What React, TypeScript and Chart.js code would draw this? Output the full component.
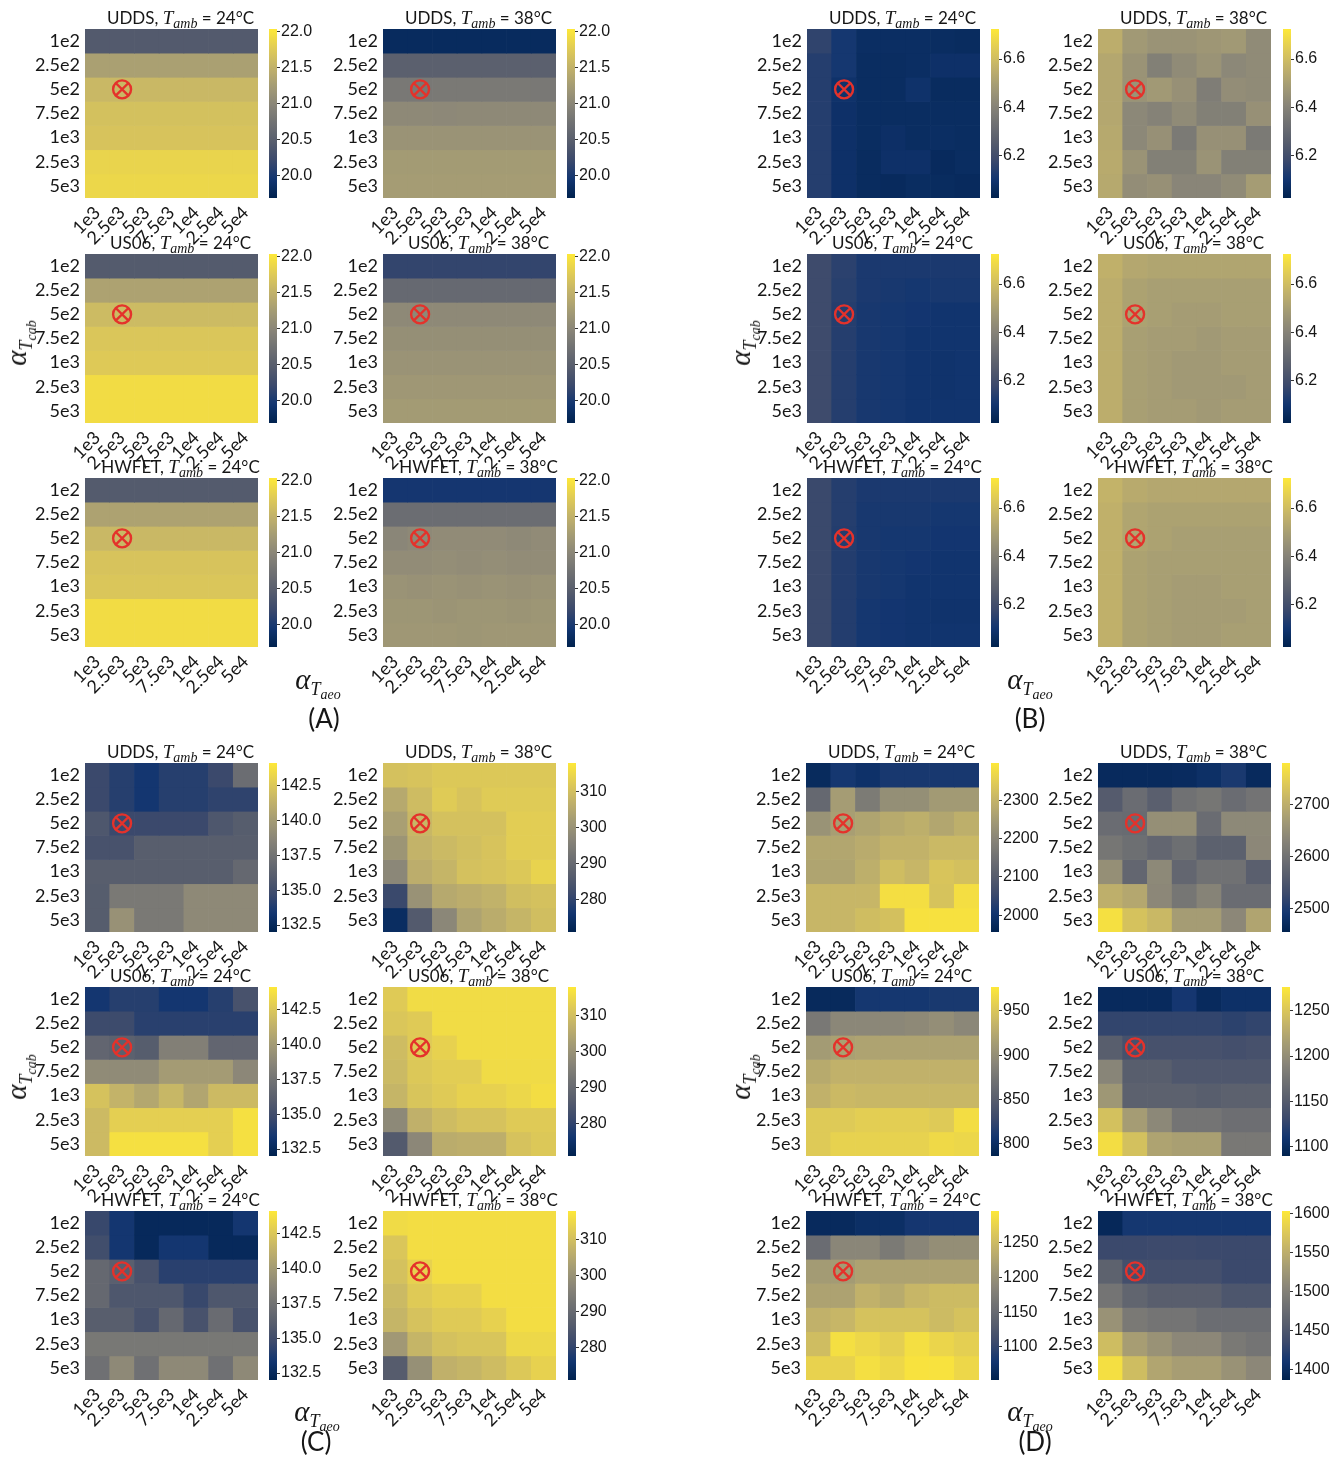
import React, { useEffect, useRef } from 'react';
import { Chart, registerables } from 'chart.js';
Chart.register(...registerables);

// ---------- axes ----------
const X_LABELS = ['1e3', '2.5e3', '5e3', '7.5e3', '1e4', '2.5e4', '5e4'];
const Y_LABELS = ['1e2', '2.5e2', '5e2', '7.5e2', '1e3', '2.5e3', '5e3'];
const MARKER_X = '2.5e3';
const MARKER_Y = '5e2';
const CYCLES = ['UDDS', 'US06', 'HWFET'];
const TEMPS = [24, 38];

// ---------- colour ranges and ticks ----------
const A_RANGE = [19.69, 22.04];
const A_TICKS = [20.0, 20.5, 21.0, 21.5, 22.0];
const B_RANGE = [6.026, 6.724];
const B_TICKS = [6.2, 6.4, 6.6];
const C_RANGE_24 = [132.0, 144.1];
const C_TICKS_24 = [132.5, 135.0, 137.5, 140.0, 142.5];
const C_RANGE_38 = [271.1, 318.0];
const C_TICKS_38 = [280, 290, 300, 310];
const D_RANGE_UDDS_24 = [1956, 2397];
const D_TICKS_UDDS_24 = [2000, 2100, 2200, 2300];
const D_RANGE_UDDS_38 = [2454, 2781];
const D_TICKS_UDDS_38 = [2500, 2600, 2700];
const D_RANGE_US06_24 = [786, 977];
const D_TICKS_US06_24 = [800, 850, 900, 950];
const D_RANGE_US06_38 = [1090, 1276];
const D_TICKS_US06_38 = [1100, 1150, 1200, 1250];
const D_RANGE_HWFET_24 = [1052, 1296];
const D_TICKS_HWFET_24 = [1100, 1150, 1200, 1250];
const D_RANGE_HWFET_38 = [1386, 1603];
const D_TICKS_HWFET_38 = [1400, 1450, 1500, 1550, 1600];

// ---------- panel A ----------
const A_UDDS_24 = [
  [20.44, 20.44, 20.44, 20.44, 20.44, 20.44, 20.44],
  [21.3, 21.3, 21.3, 21.3, 21.3, 21.3, 21.3],
  [21.57, 21.57, 21.57, 21.57, 21.57, 21.57, 21.57],
  [21.66, 21.66, 21.66, 21.66, 21.66, 21.66, 21.66],
  [21.69, 21.69, 21.69, 21.69, 21.69, 21.69, 21.69],
  [21.85, 21.85, 21.85, 21.85, 21.85, 21.85, 21.85],
  [21.88, 21.88, 21.88, 21.88, 21.88, 21.88, 21.88],
];
const A_UDDS_38 = [
  [19.81, 19.81, 19.81, 19.81, 19.81, 19.81, 19.81],
  [20.51, 20.51, 20.51, 20.51, 20.51, 20.51, 20.51],
  [20.82, 20.82, 20.83, 20.83, 20.83, 20.83, 20.82],
  [21.03, 21.03, 21.02, 21.03, 21.03, 21.03, 21.03],
  [21.15, 21.15, 21.15, 21.15, 21.15, 21.15, 21.15],
  [21.24, 21.24, 21.24, 21.24, 21.24, 21.24, 21.24],
  [21.26, 21.26, 21.26, 21.26, 21.26, 21.26, 21.26],
];
const A_US06_24 = [
  [20.45, 20.45, 20.45, 20.45, 20.45, 20.45, 20.45],
  [21.33, 21.33, 21.33, 21.33, 21.33, 21.33, 21.33],
  [21.6, 21.6, 21.6, 21.6, 21.6, 21.6, 21.6],
  [21.72, 21.72, 21.72, 21.72, 21.72, 21.72, 21.72],
  [21.75, 21.75, 21.75, 21.75, 21.75, 21.75, 21.75],
  [21.93, 21.93, 21.93, 21.93, 21.93, 21.93, 21.93],
  [21.93, 21.93, 21.93, 21.93, 21.93, 21.93, 21.93],
];
const A_US06_38 = [
  [20.16, 20.16, 20.16, 20.16, 20.16, 20.16, 20.16],
  [20.63, 20.63, 20.63, 20.63, 20.63, 20.63, 20.63],
  [21.03, 21.03, 21.03, 21.03, 21.03, 21.03, 21.03],
  [21.1, 21.1, 21.1, 21.1, 21.1, 21.1, 21.1],
  [21.15, 21.15, 21.15, 21.15, 21.15, 21.15, 21.15],
  [21.2, 21.2, 21.2, 21.2, 21.2, 21.2, 21.2],
  [21.24, 21.24, 21.24, 21.24, 21.24, 21.24, 21.24],
];
const A_HWFET_24 = [
  [20.45, 20.45, 20.45, 20.45, 20.45, 20.45, 20.45],
  [21.33, 21.33, 21.33, 21.33, 21.33, 21.33, 21.33],
  [21.57, 21.57, 21.57, 21.57, 21.57, 21.57, 21.57],
  [21.69, 21.69, 21.69, 21.69, 21.69, 21.69, 21.69],
  [21.72, 21.72, 21.72, 21.72, 21.72, 21.72, 21.72],
  [21.93, 21.93, 21.93, 21.93, 21.93, 21.93, 21.93],
  [21.93, 21.93, 21.93, 21.93, 21.93, 21.93, 21.93],
];
const A_HWFET_38 = [
  [19.97, 19.97, 19.97, 19.97, 19.97, 19.97, 19.97],
  [20.68, 20.68, 20.68, 20.68, 20.68, 20.68, 20.68],
  [21.0, 21.03, 21.06, 21.06, 21.06, 21.03, 21.06],
  [21.07, 21.07, 21.09, 21.07, 21.09, 21.07, 21.07],
  [21.15, 21.13, 21.15, 21.13, 21.15, 21.13, 21.15],
  [21.18, 21.18, 21.16, 21.18, 21.18, 21.16, 21.18],
  [21.2, 21.2, 21.2, 21.18, 21.2, 21.2, 21.2],
];

// ---------- panel B ----------
const B_UDDS_24 = [
  [6.16, 6.11, 6.075, 6.075, 6.075, 6.07, 6.065],
  [6.14, 6.11, 6.07, 6.07, 6.075, 6.085, 6.085],
  [6.14, 6.09, 6.07, 6.07, 6.09, 6.065, 6.065],
  [6.14, 6.085, 6.07, 6.07, 6.07, 6.07, 6.07],
  [6.14, 6.085, 6.07, 6.08, 6.07, 6.075, 6.07],
  [6.14, 6.085, 6.065, 6.085, 6.085, 6.06, 6.07],
  [6.14, 6.085, 6.065, 6.06, 6.07, 6.065, 6.06],
];
const B_UDDS_38 = [
  [6.55, 6.48, 6.46, 6.46, 6.47, 6.48, 6.43],
  [6.53, 6.46, 6.39, 6.43, 6.46, 6.42, 6.43],
  [6.53, 6.46, 6.48, 6.45, 6.38, 6.44, 6.43],
  [6.53, 6.42, 6.4, 6.43, 6.39, 6.39, 6.45],
  [6.535, 6.42, 6.45, 6.37, 6.45, 6.45, 6.37],
  [6.54, 6.46, 6.39, 6.39, 6.46, 6.39, 6.39],
  [6.535, 6.44, 6.45, 6.41, 6.41, 6.43, 6.49],
];
const B_US06_24 = [
  [6.19, 6.15, 6.12, 6.12, 6.12, 6.12, 6.12],
  [6.19, 6.145, 6.12, 6.115, 6.11, 6.115, 6.115],
  [6.19, 6.14, 6.115, 6.11, 6.105, 6.1, 6.1],
  [6.19, 6.14, 6.115, 6.11, 6.1, 6.1, 6.1],
  [6.19, 6.14, 6.115, 6.11, 6.1, 6.095, 6.1],
  [6.19, 6.14, 6.115, 6.11, 6.1, 6.095, 6.1],
  [6.19, 6.14, 6.115, 6.11, 6.1, 6.1, 6.1],
];
const B_US06_38 = [
  [6.56, 6.53, 6.52, 6.52, 6.52, 6.52, 6.52],
  [6.55, 6.51, 6.5, 6.5, 6.5, 6.5, 6.5],
  [6.55, 6.51, 6.5, 6.49, 6.49, 6.5, 6.5],
  [6.55, 6.5, 6.49, 6.49, 6.48, 6.49, 6.49],
  [6.55, 6.5, 6.49, 6.48, 6.48, 6.49, 6.49],
  [6.55, 6.5, 6.49, 6.48, 6.48, 6.48, 6.49],
  [6.55, 6.5, 6.49, 6.49, 6.48, 6.49, 6.49],
];
const B_HWFET_24 = [
  [6.18, 6.14, 6.12, 6.12, 6.12, 6.12, 6.12],
  [6.18, 6.14, 6.115, 6.115, 6.115, 6.11, 6.11],
  [6.18, 6.135, 6.115, 6.11, 6.11, 6.105, 6.105],
  [6.18, 6.135, 6.115, 6.11, 6.105, 6.1, 6.1],
  [6.18, 6.135, 6.115, 6.11, 6.1, 6.1, 6.1],
  [6.18, 6.135, 6.11, 6.105, 6.1, 6.095, 6.095],
  [6.18, 6.135, 6.11, 6.105, 6.1, 6.1, 6.1],
];
const B_HWFET_38 = [
  [6.57, 6.54, 6.53, 6.53, 6.53, 6.53, 6.53],
  [6.56, 6.52, 6.51, 6.51, 6.51, 6.51, 6.51],
  [6.56, 6.52, 6.51, 6.5, 6.5, 6.5, 6.5],
  [6.56, 6.51, 6.5, 6.5, 6.5, 6.5, 6.5],
  [6.56, 6.51, 6.5, 6.49, 6.49, 6.5, 6.5],
  [6.56, 6.51, 6.5, 6.49, 6.49, 6.49, 6.5],
  [6.56, 6.51, 6.5, 6.49, 6.49, 6.5, 6.5],
];

// ---------- panel C ----------
const C_UDDS_24 = [
  [134.7, 134.0, 133.4, 134.0, 134.0, 134.7, 137.1],
  [134.7, 134.0, 133.4, 134.0, 134.0, 134.3, 134.3],
  [135.6, 134.7, 134.7, 134.7, 134.7, 135.6, 136.0],
  [135.3, 135.3, 136.1, 136.1, 136.1, 136.1, 136.1],
  [136.1, 136.1, 136.1, 136.1, 136.1, 136.1, 136.8],
  [136.0, 137.9, 137.9, 137.9, 138.9, 138.9, 138.9],
  [136.0, 139.4, 137.9, 137.9, 138.9, 138.9, 138.9],
];
const C_UDDS_38 = [
  [310.5, 311, 312, 312, 312, 312, 312],
  [305.3, 309.5, 312.5, 311, 312.5, 312.5, 312.5],
  [303, 308.5, 310.5, 310.5, 310.5, 313, 313],
  [300.6, 307.5, 309, 310, 311, 313, 313],
  [297.4, 306.3, 308, 310.5, 311, 312, 314],
  [281.4, 300, 305.3, 306.3, 307.3, 309.8, 310.5],
  [274, 286, 297.4, 304, 306, 308, 309.8],
];
const C_US06_24 = [
  [133.4, 134.0, 134.0, 133.4, 133.4, 134.0, 135.3],
  [134.8, 134.8, 134.1, 134.1, 134.1, 134.1, 134.1],
  [136.6, 136.3, 136.0, 138.3, 138.3, 136.6, 136.6],
  [139.0, 139.0, 139.0, 140.0, 140.0, 140.0, 138.8],
  [142.2, 141.4, 140.7, 141.6, 140.6, 141.8, 141.8],
  [141.8, 142.9, 142.9, 142.9, 142.9, 142.9, 143.7],
  [141.8, 143.7, 143.7, 143.7, 143.7, 142.9, 143.7],
];
const C_US06_38 = [
  [312.4, 315.7, 315.7, 315.7, 315.7, 315.7, 315.7],
  [311.5, 312.4, 315.7, 315.7, 315.7, 315.7, 315.7],
  [309.5, 312.4, 313.8, 315.7, 315.7, 315.7, 315.7],
  [309, 312, 313, 313, 315.5, 315.5, 315.5],
  [308, 311.3, 312.4, 313.8, 313.8, 314.8, 316],
  [297.8, 307, 309.5, 310.8, 310.8, 312.4, 312.4],
  [286, 297.5, 306, 306.5, 306.5, 310.8, 312],
];
const C_HWFET_24 = [
  [134.6, 133.4, 132.5, 132.5, 132.5, 132.5, 133.4],
  [135.0, 133.4, 132.5, 133.4, 133.4, 132.5, 132.5],
  [136.8, 136.2, 135.3, 134.1, 134.1, 134.1, 134.1],
  [136.8, 135.6, 135.6, 135.6, 134.6, 135.6, 135.6],
  [136.1, 136.1, 135.3, 136.8, 135.3, 137.0, 135.3],
  [137.8, 137.8, 137.8, 137.8, 137.8, 137.8, 137.8],
  [137.3, 138.9, 137.3, 138.9, 138.9, 137.3, 138.9],
];
const C_HWFET_38 = [
  [315.5, 316, 316, 316, 316, 316, 316],
  [311.5, 316, 316, 316, 316, 316, 316],
  [310.5, 313.8, 316, 316, 316, 316, 316],
  [309, 312.4, 313.8, 313.8, 316, 316, 316],
  [308, 310.8, 312.4, 312.4, 313.8, 316, 316],
  [301.5, 308, 310.5, 311.3, 311.3, 315, 315],
  [286.5, 299.5, 307, 308, 309.5, 312, 313.8],
];

// ---------- panel D ----------
const D_UDDS_24 = [
  [1978, 2009, 1995, 2012, 2012, 2012, 2012],
  [2130, 2250, 2175, 2220, 2220, 2245, 2245],
  [2229, 2255, 2266, 2280, 2290, 2272, 2290],
  [2272, 2272, 2282, 2297, 2297, 2310, 2310],
  [2266, 2266, 2290, 2318, 2305, 2333, 2325],
  [2305, 2305, 2305, 2380, 2380, 2330, 2380],
  [2305, 2305, 2318, 2325, 2385, 2385, 2385],
];
const D_UDDS_38 = [
  [2470, 2470, 2470, 2472, 2480, 2497, 2470],
  [2560, 2591, 2567, 2600, 2608, 2591, 2603],
  [2591, 2588, 2650, 2650, 2591, 2640, 2640],
  [2608, 2595, 2580, 2595, 2570, 2570, 2638],
  [2650, 2580, 2640, 2580, 2600, 2600, 2567],
  [2702, 2690, 2638, 2608, 2630, 2591, 2591],
  [2770, 2730, 2715, 2672, 2672, 2638, 2685],
];
const D_US06_24 = [
  [795, 795, 809, 809, 809, 811, 811],
  [878, 893, 893, 893, 895, 900, 893],
  [912, 917, 920, 920, 920, 920, 920],
  [926, 933, 933, 933, 933, 933, 933],
  [933, 940, 938, 938, 938, 938, 938],
  [954, 954, 957, 957, 957, 954, 969],
  [954, 960, 960, 960, 960, 966, 964],
];
const D_US06_38 = [
  [1099, 1099, 1099, 1112, 1099, 1105, 1105],
  [1127, 1127, 1127, 1127, 1127, 1124, 1127],
  [1153, 1140, 1140, 1140, 1140, 1138, 1140],
  [1192, 1153, 1153, 1146, 1146, 1146, 1146],
  [1209, 1156, 1156, 1156, 1153, 1156, 1156],
  [1246, 1214, 1195, 1176, 1176, 1170, 1170],
  [1268, 1246, 1220, 1217, 1217, 1180, 1180],
];
const D_HWFET_24 = [
  [1064, 1064, 1070, 1070, 1081, 1081, 1081],
  [1154, 1188, 1188, 1172, 1188, 1198, 1198],
  [1213, 1213, 1222, 1222, 1222, 1222, 1222],
  [1222, 1222, 1240, 1232, 1245, 1250, 1250],
  [1240, 1245, 1258, 1258, 1258, 1250, 1258],
  [1253, 1287, 1280, 1272, 1287, 1278, 1272],
  [1275, 1275, 1287, 1280, 1290, 1290, 1280],
];
const D_HWFET_38 = [
  [1394, 1412, 1412, 1412, 1412, 1412, 1412],
  [1434, 1434, 1436, 1436, 1434, 1434, 1434],
  [1464, 1442, 1442, 1442, 1442, 1434, 1434],
  [1486, 1468, 1460, 1460, 1460, 1450, 1450],
  [1520, 1492, 1486, 1486, 1478, 1478, 1478],
  [1564, 1532, 1520, 1508, 1508, 1492, 1486],
  [1595, 1564, 1540, 1532, 1532, 1520, 1508],
];

// ---------- styles / layout ----------
const CIVIDIS = ['#00224e', '#123570', '#3b496c', '#575d6d', '#707173', '#8a8678', '#a59c74', '#c3b369', '#e1cc55', '#fee838'];
const CIV_RGB = CIVIDIS.map((h) => [parseInt(h.slice(1, 3), 16), parseInt(h.slice(3, 5), 16), parseInt(h.slice(5, 7), 16)]);
function cividis(t: number) {
  const tt = Math.max(0, Math.min(1, t));
  const n = CIV_RGB.length - 1;
  const f = tt * n;
  const i = Math.min(Math.floor(f), n - 1);
  const u = f - i;
  const a = CIV_RGB[i], b = CIV_RGB[i + 1];
  const c = [0, 1, 2].map((k) => Math.round(a[k] + (b[k] - a[k]) * u));
  return `rgb(${c[0]},${c[1]},${c[2]})`;
}

const HM_W = 173;
const HM_H = 169;
const CB_W = 8;
const CB_PAD = 12;
const Y_AXIS_W = 84;
const X_AXIS_H = 62;
const CB_LABEL_W = 64;
const RED = '#e4322b';
const TXT = '#161616';
const TICK_FONT = 'Lato, "Open Sans", sans-serif';
const CB_FONT = '"Liberation Sans", Arial, sans-serif';
const MATH_FONT = '"Liberation Serif", "DejaVu Serif", serif';

const LAYOUT: any = {
  A: { colX: [85, 383], cbX: [269, 567], rowY: [29, 254, 478], cab: [19, 343], aeo: [318, 682], tag: [324, 718] },
  B: { colX: [807, 1098], cbX: [991, 1283], rowY: [29, 254, 478], cab: [743, 343], aeo: [1030, 682], tag: [1030, 718] },
  C: { colX: [85, 383], cbX: [269, 568], rowY: [763, 987, 1211], cab: [19, 1077], aeo: [317, 1414], tag: [316, 1441] },
  D: { colX: [806, 1098], cbX: [991, 1282], rowY: [763, 987, 1211], cab: [743, 1077], aeo: [1030, 1414], tag: [1035, 1441] },
};

const PANEL_MAPS: any = {
  A: [[A_UDDS_24, A_UDDS_38], [A_US06_24, A_US06_38], [A_HWFET_24, A_HWFET_38]],
  B: [[B_UDDS_24, B_UDDS_38], [B_US06_24, B_US06_38], [B_HWFET_24, B_HWFET_38]],
  C: [[C_UDDS_24, C_UDDS_38], [C_US06_24, C_US06_38], [C_HWFET_24, C_HWFET_38]],
  D: [[D_UDDS_24, D_UDDS_38], [D_US06_24, D_US06_38], [D_HWFET_24, D_HWFET_38]],
};
const PANEL_RANGES: any = {
  A: [[A_RANGE, A_RANGE], [A_RANGE, A_RANGE], [A_RANGE, A_RANGE]],
  B: [[B_RANGE, B_RANGE], [B_RANGE, B_RANGE], [B_RANGE, B_RANGE]],
  C: [[C_RANGE_24, C_RANGE_38], [C_RANGE_24, C_RANGE_38], [C_RANGE_24, C_RANGE_38]],
  D: [[D_RANGE_UDDS_24, D_RANGE_UDDS_38], [D_RANGE_US06_24, D_RANGE_US06_38], [D_RANGE_HWFET_24, D_RANGE_HWFET_38]],
};
const PANEL_TICKS: any = {
  A: [[A_TICKS, A_TICKS], [A_TICKS, A_TICKS], [A_TICKS, A_TICKS]],
  B: [[B_TICKS, B_TICKS], [B_TICKS, B_TICKS], [B_TICKS, B_TICKS]],
  C: [[C_TICKS_24, C_TICKS_38], [C_TICKS_24, C_TICKS_38], [C_TICKS_24, C_TICKS_38]],
  D: [[D_TICKS_UDDS_24, D_TICKS_UDDS_38], [D_TICKS_US06_24, D_TICKS_US06_38], [D_TICKS_HWFET_24, D_TICKS_HWFET_38]],
};
const PANEL_DECIMALS: any = { A: [1, 1], B: [1, 1], C: [1, 0], D: [0, 0] };

function Heatmap({ left, top, values, range }: any) {
  const ref = useRef<HTMLCanvasElement>(null);
  useEffect(() => {
    const [vmin, vmax] = range;
    const datasets: any[] = values.map((row: number[], r: number) => ({
      type: 'bar',
      data: row.map(() => [r, r + 1]),
      backgroundColor: row.map((v) => cividis((v - vmin) / (vmax - vmin))),
      borderWidth: 0,
      barPercentage: 1,
      categoryPercentage: 1,
      grouped: false,
      order: 2,
    }));
    const my = Y_LABELS.indexOf(MARKER_Y) + 0.5;
    datasets.push({
      type: 'scatter', data: [{ x: MARKER_X, y: my }], pointStyle: 'circle', pointRadius: 9,
      pointBorderColor: RED, pointBorderWidth: 2.4, pointBackgroundColor: 'rgba(0,0,0,0)', order: 0,
    });
    datasets.push({
      type: 'scatter', data: [{ x: MARKER_X, y: my }], pointStyle: 'crossRot', pointRadius: 9,
      pointBorderColor: RED, pointBorderWidth: 2.4, pointBackgroundColor: RED, order: 0,
    });
    const chart = new Chart(ref.current as HTMLCanvasElement, {
      type: 'bar',
      data: { labels: X_LABELS, datasets },
      options: {
        animation: false,
        responsive: false,
        maintainAspectRatio: false,
        events: [],
        layout: { padding: 0, autoPadding: false },
        plugins: { legend: { display: false }, tooltip: { enabled: false }, title: { display: false } },
        scales: {
          x: {
            type: 'category',
            offset: true,
            grid: { display: false, drawTicks: false },
            border: { display: false },
            ticks: { autoSkip: false, maxRotation: 45, minRotation: 45, padding: 4, color: TXT, font: { family: TICK_FONT, size: 18 } },
            afterFit: (s: any) => { s.height = X_AXIS_H; s.paddingLeft = 0; s.paddingRight = 0; },
          },
          y: {
            type: 'linear',
            min: 0,
            max: Y_LABELS.length,
            reverse: true,
            grid: { display: false, drawTicks: false },
            border: { display: false },
            afterBuildTicks: (s: any) => { s.ticks = Y_LABELS.map((_, i) => ({ value: i + 0.5 })); },
            ticks: { autoSkip: false, padding: 5, color: TXT, font: { family: TICK_FONT, size: 18 }, callback: (v: any) => Y_LABELS[Math.floor(Number(v))] },
            afterFit: (s: any) => { s.width = Y_AXIS_W; s.paddingTop = 0; s.paddingBottom = 0; },
          },
        },
      } as any,
    });
    return () => chart.destroy();
  }, []);
  const w = Y_AXIS_W + HM_W, h = HM_H + X_AXIS_H;
  return <canvas ref={ref} width={w} height={h} style={{ position: 'absolute', left: left - Y_AXIS_W, top, width: w, height: h }} />;
}

function Colorbar({ left, top, range, ticks, decimals }: any) {
  const ref = useRef<HTMLCanvasElement>(null);
  useEffect(() => {
    const [vmin, vmax] = range;
    const chart = new Chart(ref.current as HTMLCanvasElement, {
      type: 'bar',
      data: {
        labels: [''],
        datasets: [{
          data: [[vmin, vmax]],
          borderWidth: 0,
          barPercentage: 1,
          categoryPercentage: 1,
          inflateAmount: 0,
          backgroundColor: (ctx: any) => {
            const ca = ctx.chart.chartArea;
            if (!ca) return cividis(0.5);
            const g = ctx.chart.ctx.createLinearGradient(0, ca.bottom, 0, ca.top);
            for (let i = 0; i <= 40; i++) g.addColorStop(i / 40, cividis(i / 40));
            return g;
          },
        }],
      },
      options: {
        animation: false,
        responsive: false,
        maintainAspectRatio: false,
        events: [],
        layout: { padding: { top: CB_PAD, bottom: CB_PAD, left: 0, right: 0 }, autoPadding: false },
        plugins: { legend: { display: false }, tooltip: { enabled: false } },
        scales: {
          x: { display: false, offset: true },
          y: {
            type: 'linear',
            position: 'right',
            min: vmin,
            max: vmax,
            grid: { display: true, drawOnChartArea: false, drawTicks: true, tickLength: 3, color: '#333', lineWidth: 1 },
            border: { display: false },
            afterBuildTicks: (s: any) => { s.ticks = ticks.map((v: number) => ({ value: v })); },
            ticks: { autoSkip: false, padding: 1, color: TXT, font: { family: CB_FONT, size: 16 }, callback: (v: any) => Number(v).toFixed(decimals) },
            afterFit: (s: any) => { s.width = CB_LABEL_W; s.paddingTop = 0; s.paddingBottom = 0; },
          },
        },
      } as any,
    });
    return () => chart.destroy();
  }, []);
  const w = CB_W + CB_LABEL_W;
  const h = HM_H + 2 * CB_PAD;
  return <canvas ref={ref} width={w} height={h} style={{ position: 'absolute', left, top: top - CB_PAD, width: w, height: h }} />;
}

function Title({ cx, top, cycle, temp }: any) {
  return (
    <div style={{ position: 'absolute', left: cx, top, transform: 'translateX(-50%)', whiteSpace: 'nowrap', fontFamily: TICK_FONT, fontSize: 17, lineHeight: '17px', color: TXT }}>
      {cycle},{' '}
      <span style={{ fontFamily: MATH_FONT, fontStyle: 'italic', fontSize: 19 }}>T</span>
      <span style={{ fontFamily: MATH_FONT, fontStyle: 'italic', fontSize: 14, position: 'relative', top: 4 }}>amb</span>
      {' = '}{temp}°C
    </div>
  );
}

function AlphaLabel({ cx, cy, sub, rotate }: any) {
  return (
    <div style={{ position: 'absolute', left: cx, top: cy, transform: `translate(-50%, -50%)${rotate ? ' rotate(-90deg)' : ''}`, whiteSpace: 'nowrap', fontFamily: MATH_FONT, fontStyle: 'italic', fontSize: 29, lineHeight: '29px', color: TXT }}>
      α
      <span style={{ fontSize: 18, position: 'relative', top: 6 }}>T</span>
      <span style={{ fontSize: 14, position: 'relative', top: 10 }}>{sub}</span>
    </div>
  );
}

function Panel({ id }: any) {
  const L = LAYOUT[id];
  const items: any[] = [];
  CYCLES.forEach((cycle, r) => {
    TEMPS.forEach((temp, c) => {
      const left = L.colX[c];
      const top = L.rowY[r];
      items.push(<Heatmap key={`h${r}${c}`} left={left} top={top} values={PANEL_MAPS[id][r][c]} range={PANEL_RANGES[id][r][c]} />);
      items.push(<Colorbar key={`c${r}${c}`} left={L.cbX[c]} top={top} range={PANEL_RANGES[id][r][c]} ticks={PANEL_TICKS[id][r][c]} decimals={PANEL_DECIMALS[id][c]} />);
      items.push(<Title key={`t${r}${c}`} cx={left + HM_W / 2 + 9} top={top - 20} cycle={cycle} temp={temp} />);
    });
  });
  items.push(<AlphaLabel key="cab" cx={L.cab[0]} cy={L.cab[1]} sub="cab" rotate />);
  items.push(<AlphaLabel key="aeo" cx={L.aeo[0]} cy={L.aeo[1]} sub="aeo" />);
  items.push(
    <div key="tag" style={{ position: 'absolute', left: L.tag[0], top: L.tag[1], transform: 'translate(-50%, -50%)', fontFamily: TICK_FONT, fontSize: 26, lineHeight: '26px', color: TXT, whiteSpace: 'nowrap' }}>({id})</div>
  );
  return <>{items}</>;
}

export default function App() {
  return (
    <div style={{ position: 'absolute', left: 0, top: 0, width: 1344, height: 1458, background: '#ffffff', overflow: 'hidden' }}>
      <Panel id="A" />
      <Panel id="B" />
      <Panel id="C" />
      <Panel id="D" />
    </div>
  );
}
